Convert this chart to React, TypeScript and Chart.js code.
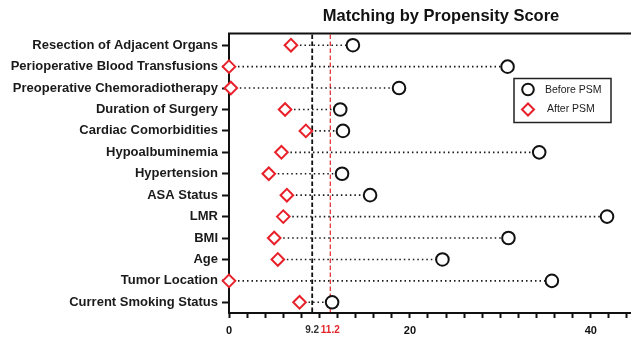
import React, { useEffect, useRef } from "react";
import { Chart, registerables } from "chart.js";

Chart.register(...registerables);

const categories = [
  "Resection of Adjacent Organs",
  "Perioperative Blood Transfusions",
  "Preoperative Chemoradiotherapy",
  "Duration of Surgery",
  "Cardiac Comorbidities",
  "Hypoalbuminemia",
  "Hypertension",
  "ASA Status",
  "LMR",
  "BMI",
  "Age",
  "Tumor Location",
  "Current Smoking Status",
];
const beforePSM = [13.7, 30.8, 18.8, 12.3, 12.6, 34.3, 12.5, 15.6, 41.8, 30.9, 23.6, 35.7, 11.4];
const afterPSM = [6.85, 0.0, 0.2, 6.2, 8.5, 5.8, 4.4, 6.4, 6.0, 5.0, 5.4, 0.0, 7.8];
const majorTickLabels = [0, 20, 40];
const refValues = [9.2, 11.2];
const refColors = ["#111111", "#e3262b"];
const xMax = 44.45;
const minorStep = 2;
const titleText = "Matching by Propensity Score";

const FONT = "'Liberation Sans', Arial, sans-serif";
const RED = "#e8202a";
const BLACK = "#111111";

const isRef = (v: number) => refValues.some((r) => Math.abs(r - v) < 1e-6);

const connectorPlugin = {
  id: "connectors",
  beforeDatasetsDraw(chart: any) {
    const { ctx, scales } = chart;
    const xs = scales.x;
    const ys = scales.y;
    const area = chart.chartArea;
    ctx.save();
    refValues.forEach((v, i) => {
      const px = xs.getPixelForValue(v);
      ctx.beginPath();
      ctx.setLineDash([4.5, 2.5]);
      ctx.lineWidth = i === 0 ? 1.8 : 1.2;
      ctx.strokeStyle = refColors[i];
      ctx.moveTo(px, area.top);
      ctx.lineTo(px, area.bottom);
      ctx.stroke();
    });
    ctx.setLineDash([1.5, 3]);
    ctx.lineWidth = 1.6;
    ctx.strokeStyle = "#1a1a1a";
    categories.forEach((_, i) => {
      const y = ys.getPixelForValue(i);
      const x1 = xs.getPixelForValue(afterPSM[i]);
      const x2 = xs.getPixelForValue(beforePSM[i]);
      ctx.beginPath();
      ctx.moveTo(x1, y);
      ctx.lineTo(x2, y);
      ctx.stroke();
    });
    ctx.restore();
  },
  afterDraw(chart: any) {
    const { ctx } = chart;
    const area = chart.chartArea;
    ctx.save();
    // top border
    ctx.beginPath();
    ctx.lineWidth = 2;
    ctx.strokeStyle = BLACK;
    ctx.moveTo(area.left - 1, area.top - 1);
    ctx.lineTo(area.right, area.top - 1);
    ctx.stroke();

    // title (centred over the full, wider original plot area)
    ctx.font = `bold 16.5px ${FONT}`;
    ctx.fillStyle = BLACK;
    ctx.textAlign = "center";
    ctx.textBaseline = "middle";
    ctx.fillText(titleText, (area.left + area.right) / 2 + 11, 16);

    // legend
    const bx = area.left + 285;
    const by = area.top + 44;
    const bw = 97;
    const bh = 44;
    ctx.lineWidth = 1.5;
    ctx.strokeStyle = "#222222";
    ctx.strokeRect(bx, by, bw, bh);
    const ds = chart.data.datasets;
    ctx.font = `10.5px ${FONT}`;
    ctx.fillStyle = "#222222";
    ctx.textBaseline = "middle";
    ctx.textAlign = "left";
    const sx = bx + 14;
    const y1 = by + 11;
    const y2 = by + 31;
    ctx.beginPath();
    ctx.lineWidth = 2;
    ctx.strokeStyle = ds[0].borderColor;
    ctx.arc(sx, y1, 5.8, 0, Math.PI * 2);
    ctx.stroke();
    ctx.fillText(ds[0].label, bx + 31, y1 + 1);
    ctx.beginPath();
    ctx.strokeStyle = ds[1].borderColor;
    const r = 6;
    ctx.moveTo(sx - r, y2);
    ctx.lineTo(sx, y2 - r);
    ctx.lineTo(sx + r, y2);
    ctx.lineTo(sx, y2 + r);
    ctx.closePath();
    ctx.stroke();
    ctx.fillText(ds[1].label, bx + 33, y2);
    ctx.restore();
  },
};

export default function App() {
  const ref = useRef<HTMLCanvasElement>(null);

  useEffect(() => {
    if (!ref.current) return;
    Chart.defaults.font.family = FONT;
    const chart = new Chart(ref.current, {
      type: "line",
      data: {
        labels: categories,
        datasets: [
          {
            label: "Before PSM",
            data: beforePSM,
            showLine: false,
            pointStyle: "circle",
            pointRadius: 6.3,
            pointBorderWidth: 2,
            borderColor: BLACK,
            pointBorderColor: BLACK,
            pointBackgroundColor: "#ffffff",
            backgroundColor: "#ffffff",
            clip: false as any,
          },
          {
            label: "After PSM",
            data: afterPSM,
            showLine: false,
            pointStyle: "rectRot",
            pointRadius: 6.3,
            pointBorderWidth: 2,
            borderColor: RED,
            pointBorderColor: RED,
            pointBackgroundColor: "#ffffff",
            backgroundColor: "#ffffff",
            clip: false as any,
          },
        ],
      },
      options: {
        indexAxis: "y",
        responsive: false,
        animation: false,
        layout: { autoPadding: false, padding: { left: 0, right: 0, top: 34.5, bottom: 0 } },
        plugins: {
          legend: { display: false },
          tooltip: { enabled: false },
          title: { display: false },
        },
        scales: {
          x: {
            type: "linear",
            min: 0,
            max: xMax,
            position: "bottom",
            afterFit(scale: any) {
              scale.height = 27;
              scale.paddingRight = 0;
              scale.paddingLeft = 0;
            },
            afterBuildTicks(scale: any) {
              const vals: number[] = [];
              for (let v = 0; v <= xMax; v += minorStep) vals.push(v);
              refValues.forEach((v) => vals.push(v));
              vals.sort((a, b) => a - b);
              scale.ticks = vals.map((v) => ({ value: v }));
            },
            border: { display: true, color: BLACK, width: 2 },
            grid: {
              drawOnChartArea: false,
              drawTicks: true,
              tickLength: 5,
              tickWidth: 2,
              tickColor: (ctx: any) =>
                ctx.tick && isRef(ctx.tick.value) ? "rgba(0,0,0,0)" : BLACK,
            },
            ticks: {
              autoSkip: false,
              maxRotation: 0,
              minRotation: 0,
              padding: 6,
              callback: (v: any) => {
                const n = Number(v);
                if (isRef(n)) return String(n);
                if (majorTickLabels.includes(n)) return String(n);
                return "";
              },
              color: (ctx: any) => {
                const v = ctx.tick ? ctx.tick.value : 0;
                const idx = refValues.findIndex((r) => Math.abs(r - v) < 1e-6);
                if (idx === 1) return refColors[1];
                if (idx === 0) return "#333333";
                return BLACK;
              },
              font: (ctx: any) => {
                const v = ctx.tick ? ctx.tick.value : 0;
                return { size: isRef(v) ? 10 : 11, weight: "bold", family: FONT };
              },
            },
          },
          y: {
            type: "category",
            offset: true,
            position: "left",
            afterFit(scale: any) {
              scale.width = 229;
            },
            border: { display: true, color: BLACK, width: 2 },
            grid: {
              drawOnChartArea: false,
              drawTicks: true,
              tickLength: 7,
              tickWidth: 2,
              tickColor: BLACK,
            },
            ticks: {
              color: "#1a1a1a",
              padding: 4,
              font: { size: 13, weight: "bold", family: FONT },
            },
          },
        },
      } as any,
      plugins: [connectorPlugin],
    });
    return () => chart.destroy();
  }, []);

  return (
    <div style={{ position: "fixed", left: 0, top: 0, width: 631, height: 340, background: "#fff" }}>
      <canvas ref={ref} width={631} height={340} style={{ display: "block" }} />
    </div>
  );
}
